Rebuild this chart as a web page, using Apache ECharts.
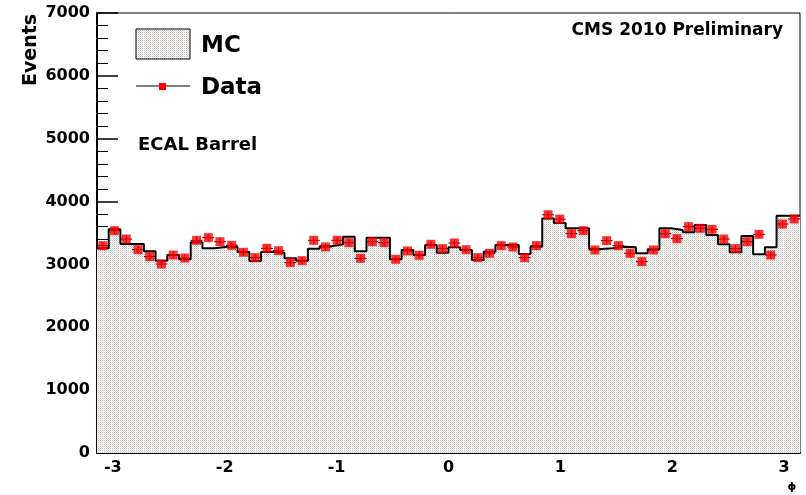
<!DOCTYPE html>
<html>
<head>
<meta charset="utf-8">
<script src="https://cdn.jsdelivr.net/npm/echarts@6/dist/echarts.min.js"></script>
<style>html,body{margin:0;padding:0;background:#fff;}#c{width:806px;height:495px;}</style>
</head>
<body>
<div id="c"></div>
<script>
// 60 bins in phi from -pi to pi
var nBins = 60;
var mcValues = [3256,3558,3325,3325,3208,3060,3150,3081,3351,3256,
                3277,3277,3198,3055,3198,3187,3097,3060,3251,3290,
                3320,3442,3208,3426,3426,3081,3230,3150,3309,3187,
                3272,3230,3071,3203,3309,3309,3166,3283,3730,3660,
                3574,3574,3245,3256,3283,3272,3177,3240,3574,3548,
                3511,3627,3468,3320,3193,3452,3161,3272,3776,3776];
var dataValues = [3298,3537,3404,3235,3124,3007,3150,3102,3383,3426,
                  3362,3304,3193,3108,3256,3219,3028,3060,3383,3278,
                  3383,3346,3097,3362,3346,3081,3214,3145,3320,3251,
                  3341,3235,3108,3177,3299,3277,3108,3299,3790,3720,
                  3489,3537,3230,3378,3299,3177,3044,3230,3489,3410,
                  3601,3574,3558,3404,3251,3362,3479,3150,3643,3723];
var xMajorTicks = [-3,-2,-1,0,1,2,3];
var xMinorTicks = [-3.2,-3,-2.8,-2.6,-2.4,-2.2,-2,-1.8,-1.6,-1.4,-1.2,-1,-0.8,-0.6,-0.4,-0.2,0,
                   0.2,0.4,0.6,0.8,1,1.2,1.4,1.6,1.8,2,2.2,2.4,2.6,2.8,3,3.2];

var xMin = -Math.PI, xMax = Math.PI;
var binW = (xMax - xMin) / nBins;

// MC histogram as step line through bin edges
var mcSeries = [];
for (var i = 0; i < nBins; i++) mcSeries.push([xMin + i * binW, mcValues[i]]);
mcSeries.push([xMax, mcValues[nBins - 1]]);

var dataSeries = [];
for (var j = 0; j < nBins; j++) dataSeries.push([xMin + (j + 0.5) * binW, dataValues[j]]);

// dotted fill pattern
function makePattern() {
  var cv = document.createElement('canvas');
  cv.width = 2; cv.height = 2;
  var ctx = cv.getContext('2d');
  ctx.fillStyle = '#ffffff'; ctx.fillRect(0, 0, 2, 2);
  ctx.fillStyle = '#c4c0be'; ctx.fillRect(0, 0, 1, 1);
  ctx.fillStyle = '#e4e1df'; ctx.fillRect(1, 1, 1, 1);
  return cv;
}
var pattern = { image: makePattern(), repeat: 'repeat' };

var FONT = '"DejaVu Sans", sans-serif';
var chart = echarts.init(document.getElementById('c'), null, { renderer: 'canvas' });

chart.setOption({
  animation: false,
  backgroundColor: '#ffffff',
  grid: { left: 97, right: 6, top: 13, bottom: 42, show: true, borderColor: '#000', borderWidth: 1, backgroundColor: 'transparent' },
  xAxis: [{
    type: 'value', min: xMin, max: xMax, position: 'bottom',
    axisLine: { show: true, onZero: false, lineStyle: { color: '#000', width: 2 } },
    axisTick: { show: true, inside: true, length: 12, customValues: xMajorTicks, lineStyle: { color: '#000', width: 1.5 } },
    axisLabel: { show: true, customValues: xMajorTicks, margin: 7, color: '#000', fontFamily: FONT, fontWeight: 'bold', fontSize: 16,
                 formatter: function (v) { return String(v); } },
    splitLine: { show: false }
  }, {
    type: 'value', min: xMin, max: xMax, position: 'bottom',
    axisLine: { show: false },
    axisTick: { show: true, inside: true, length: 6, customValues: xMinorTicks, lineStyle: { color: '#000', width: 1 } },
    axisLabel: { show: false },
    splitLine: { show: false }
  }],
  yAxis: {
    type: 'value', min: 0, max: 7000, interval: 1000,
    axisLine: { show: true, onZero: false, lineStyle: { color: '#000', width: 2 } },
    axisTick: { show: true, inside: true, length: 21, lineStyle: { color: '#000', width: 1.5 } },
    minorTick: { show: true, splitNumber: 5, length: 11, lineStyle: { color: '#000', width: 1 } },
    axisLabel: { margin: 7, color: '#000', fontFamily: FONT, fontWeight: 'bold', fontSize: 16,
                 formatter: function (v) { return String(v); } },
    splitLine: { show: false }
  },
  series: [{
    name: 'MC', type: 'line', step: 'end', data: mcSeries, showSymbol: false, symbol: 'none',
    lineStyle: { color: '#000', width: 2 },
    areaStyle: { color: pattern, opacity: 1, origin: 'start' },
    z: 1
  }, {
    name: 'DataErr', type: 'custom', data: dataSeries, z: 3,
    renderItem: function (params, api) {
      var x = api.value(0), y = api.value(1);
      var l = api.coord([x - binW / 2, y]);
      var r = api.coord([x + binW / 2, y]);
      var e = Math.sqrt(y);
      var t = api.coord([x, y + e]);
      var b = api.coord([x, y - e]);
      return { type: 'group', children: [
        { type: 'line', shape: { x1: l[0], y1: l[1], x2: r[0], y2: r[1] }, style: { stroke: '#000', lineWidth: 1 } },
        { type: 'line', shape: { x1: t[0], y1: t[1], x2: b[0], y2: b[1] }, style: { stroke: '#000', lineWidth: 1 } }
      ] };
    }
  }, {
    name: 'Data', type: 'scatter', data: dataSeries, symbol: 'rect', symbolSize: 9,
    itemStyle: { color: '#ff0000' }, z: 4
  }],
  graphic: [
    { type: 'text', x: 31, y: 50, rotation: Math.PI / 2, style: { text: 'Events', font: 'bold 19px ' + FONT, fill: '#000', align: 'center', verticalAlign: 'middle' } },
    { type: 'text', x: 783, y: 31, style: { text: 'CMS 2010 Preliminary', font: 'bold 17px ' + FONT, fill: '#000', align: 'right', verticalAlign: 'middle' } },
    { type: 'rect', shape: { x: 136, y: 29, width: 54, height: 30 }, style: { fill: pattern, stroke: '#000', lineWidth: 1 } },
    { type: 'text', x: 201, y: 46, style: { text: 'MC', font: 'bold 23px ' + FONT, fill: '#000', align: 'left', verticalAlign: 'middle' } },
    { type: 'line', shape: { x1: 136, y1: 86, x2: 190, y2: 86 }, style: { stroke: '#000', lineWidth: 1 } },
    { type: 'rect', shape: { x: 159, y: 83, width: 7, height: 7 }, style: { fill: '#ff0000' } },
    { type: 'text', x: 201, y: 88, style: { text: 'Data', font: 'bold 23px ' + FONT, fill: '#000', align: 'left', verticalAlign: 'middle' } },
    { type: 'text', x: 138, y: 145, style: { text: 'ECAL Barrel', font: 'bold 18px ' + FONT, fill: '#000', align: 'left', verticalAlign: 'middle' } },
    { type: 'text', x: 792, y: 487, style: { text: 'ϕ', font: 'bold 11px ' + FONT, fill: '#000', align: 'center', verticalAlign: 'middle' } }
  ]
});
</script>
</body>
</html>
